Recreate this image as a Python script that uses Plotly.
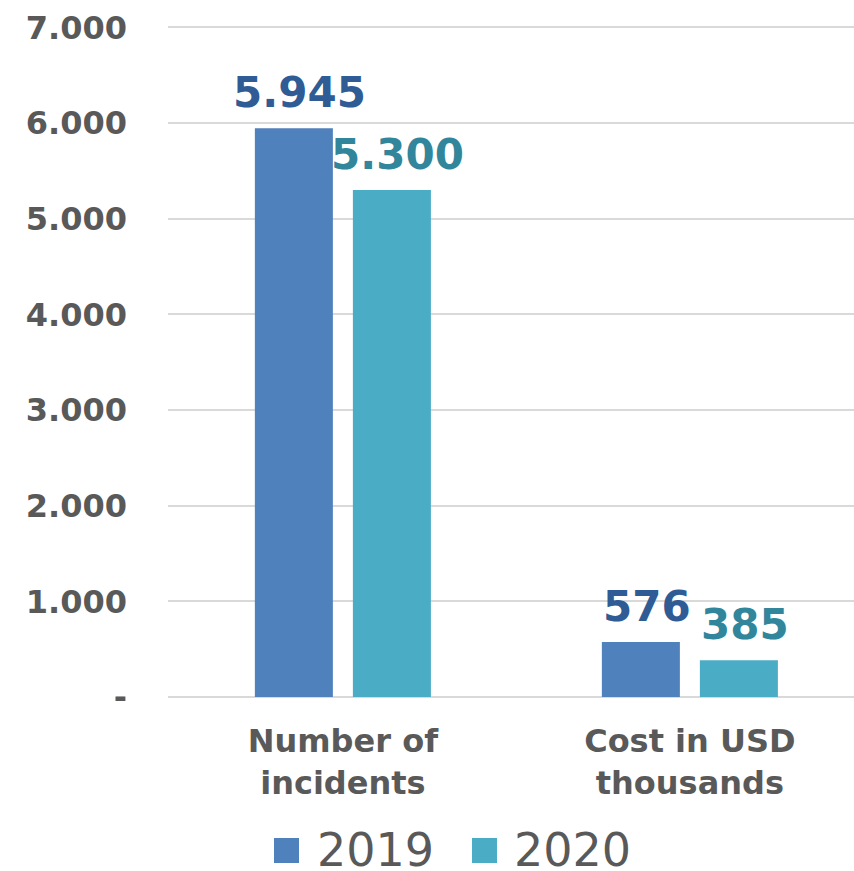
import plotly.graph_objects as go

# Chart data
categories = ["Number of<br>incidents", "Cost in USD<br>thousands"]
series_names = ["2019", "2020"]
values_2019 = [5945, 576]
values_2020 = [5300, 385]
bar_colors = ["#4F81BD", "#4BACC6"]
label_colors = ["#2F5C94", "#31869B"]
y_tickvals = [0, 1000, 2000, 3000, 4000, 5000, 6000, 7000]
y_ticktext = ["-", "1.000", "2.000", "3.000", "4.000", "5.000", "6.000", "7.000"]

FONT = "DejaVu Sans"
GRAY = "#595959"

W, H = 854, 871
M_L, M_R, M_T, M_B = 168, 0, 24, 174
Y_MAX = 7035  # a little headroom so the top grid line is drawn

fig = go.Figure()
all_values = [values_2019, values_2020]
for name, vals, col in zip(series_names, all_values, bar_colors):
    fig.add_trace(go.Bar(
        x=categories, y=vals, name=name,
        marker=dict(color=col, line=dict(width=0)),
        showlegend=False, hoverinfo="x+y+name",
    ))

fig.update_layout(
    width=W, height=H, autosize=False,
    margin=dict(l=M_L, r=M_R, t=M_T, b=M_B, pad=0),
    paper_bgcolor="white", plot_bgcolor="white",
    separators=",.",
    barmode="group", bargap=0.435, bargroupgap=0.204,
    font=dict(family=FONT, color=GRAY),
    xaxis=dict(
        range=[-0.504, 1.473], showgrid=False, zeroline=False, showline=False,
        ticks="", ticklabelstandoff=22,
        tickfont=dict(family=FONT, size=32, color=GRAY, weight="bold"),
    ),
    yaxis=dict(
        range=[0, Y_MAX], tickvals=y_tickvals, ticktext=y_ticktext,
        showgrid=True, gridcolor="#D9D9D9", gridwidth=2,
        zeroline=True, zerolinecolor="#D9D9D9", zerolinewidth=2,
        showline=False, ticks="", ticklabelstandoff=40,
        tickfont=dict(family=FONT, size=32, color=GRAY, weight="bold"),
    ),
)

# Value labels above each bar (bar centres sit 49 px either side of the category)
bar_offsets = [-49, 49]
for vals, lcol, off in zip(all_values, label_colors, bar_offsets):
    for cat, v in zip(categories, vals):
        fig.add_annotation(
            x=cat, y=v, xref="x", yref="y", showarrow=False,
            text=f"<b>{v:,}</b>".replace(",", "."),
            xanchor="center", yanchor="bottom", xshift=off + 6, yshift=9,
            font=dict(family=FONT, size=42, color=lcol),
        )

# Custom legend below the chart, placed in pixel terms
plot_w = W - M_L - M_R
plot_h = H - M_T - M_B


def px_x(x):
    return (x - M_L) / plot_w


def px_y(y):
    return (H - M_B - y) / plot_h


legend_items = [(274, 315), (472, 512)]
for (sq_x, tx_x), name, col in zip(legend_items, series_names, bar_colors):
    fig.add_shape(type="rect", xref="paper", yref="paper",
                  x0=px_x(sq_x), x1=px_x(sq_x + 25),
                  y0=px_y(838), y1=px_y(863),
                  fillcolor=col, line=dict(width=0))
    fig.add_annotation(xref="paper", yref="paper", x=px_x(tx_x), y=px_y(850),
                       xanchor="left", yanchor="middle", showarrow=False,
                       height=40, valign="middle",
                       text=name, font=dict(family=FONT, size=46, color=GRAY))

fig.write_html("out.html")
